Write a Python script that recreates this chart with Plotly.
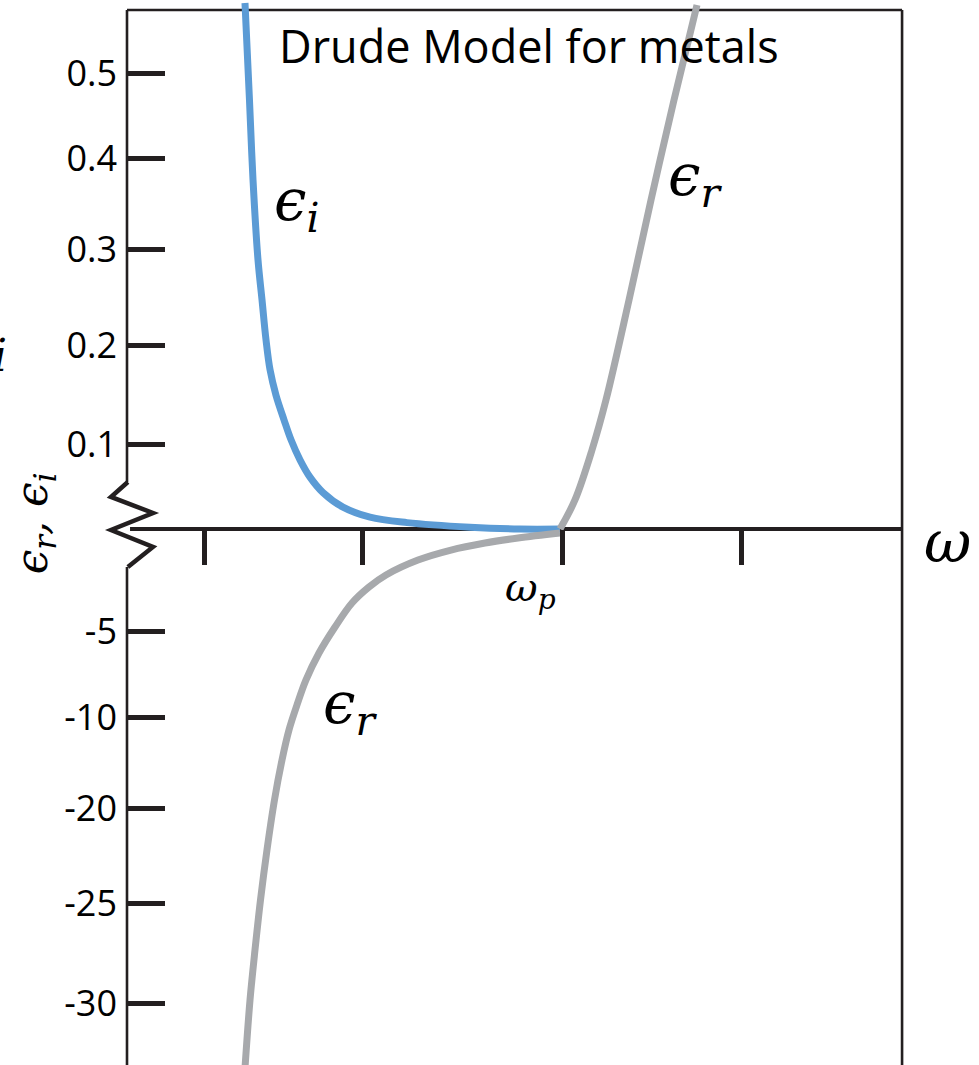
import plotly.graph_objects as go

# Frequency axis in units of the plasma frequency (omega / omega_p)
omega_i = [0.2725, 0.2829, 0.2910, 0.3025, 0.3118, 0.3210, 0.3303, 0.3441, 0.3626, 0.3788,
           0.3995, 0.4226, 0.4527, 0.4988, 0.5612, 0.6467, 0.7921, 0.9076, 1.0000]
eps_i = [0.578, 0.471, 0.384, 0.296, 0.252, 0.208, 0.175, 0.147, 0.120, 0.098,
         0.076, 0.057, 0.040, 0.024, 0.013, 0.007, 0.002, 0.000, 0.000]

# Real part below the plasma frequency (negative branch)
omega_r_low = [0.2725, 0.2841, 0.2956, 0.3083, 0.3233, 0.3406, 0.3580, 0.3741, 0.3926, 0.4134,
               0.4434, 0.4804, 0.5196, 0.5589, 0.5982, 0.6721, 0.7483, 0.8268, 0.9030, 1.0000]
eps_r_low = [-0.5923, -0.5176, -0.4626, -0.4077, -0.3527, -0.2978, -0.2538, -0.2209, -0.1934, -0.1659,
             -0.1363, -0.1077, -0.0813, -0.0637, -0.0505, -0.0341, -0.0231, -0.0154, -0.0099, -0.0044]

# Real part above the plasma frequency (positive branch)
omega_r_high = [1.0000, 1.0346, 1.0739, 1.1062, 1.1594, 1.2102, 1.2633, 1.3164]
eps_r_high = [0.0000, 0.0319, 0.0868, 0.1418, 0.2516, 0.3615, 0.4714, 0.5758]

# Broken vertical scale: tick places and their printed labels
y_tick_pos = [0.501, 0.407, 0.307, 0.202, 0.093, -0.113, -0.207, -0.307, -0.411, -0.521]
y_tick_labels = ["0.5", "0.4", "0.3", "0.2", "0.1", "-5", "-10", "-20", "-25", "-30"]
x_tick_pos = [0.180, 0.543, 1.005, 1.420]

BLUE = "#5B9BD5"
GREY = "#A7A9AC"
INK = "#231F20"
MATH = "DejaVu Serif"
SANS = "Open Sans"

X_LEFT, X_RIGHT = 0.0, 1.79
Y_TOP, Y_BOTTOM = 0.5703, -0.589

fig = go.Figure()
curve_style = dict(width=7, shape="spline", smoothing=1.0)
fig.add_trace(go.Scatter(x=omega_i, y=eps_i, mode="lines",
                         line=dict(color=BLUE, **curve_style),
                         hoverinfo="skip", showlegend=False))
fig.add_trace(go.Scatter(x=omega_r_low, y=eps_r_low, mode="lines",
                         line=dict(color=GREY, **curve_style),
                         hoverinfo="skip", showlegend=False))
fig.add_trace(go.Scatter(x=omega_r_high, y=eps_r_high, mode="lines",
                         line=dict(color=GREY, **curve_style),
                         hoverinfo="skip", showlegend=False))

frame = dict(color=INK, width=2.6)
shapes = [
    # top border
    dict(type="line", x0=X_LEFT, x1=X_RIGHT, y0=Y_TOP, y1=Y_TOP, line=frame),
    # right border
    dict(type="line", x0=X_RIGHT, x1=X_RIGHT, y0=Y_TOP, y1=Y_BOTTOM, line=frame),
    # left axis, interrupted by the break mark
    dict(type="line", x0=X_LEFT, x1=X_LEFT, y0=Y_TOP, y1=0.0516, line=frame),
    dict(type="line", x0=X_LEFT, x1=X_LEFT, y0=-0.0418, y1=Y_BOTTOM, line=frame),
    # omega axis
    dict(type="line", x0=0.007, x1=X_RIGHT, y0=0, y1=0, line=dict(color=INK, width=4)),
    # break mark
    dict(type="path",
         path="M 0.002 0.0516 L -0.037 0.0352 L 0.060 0.0176 L -0.037 -0.0011 "
              "L 0.060 -0.0198 L 0.002 -0.0418",
         line=dict(color=INK, width=4.5)),
]
for s in shapes:
    s["layer"] = "below"
    s["xref"] = "x"
    s["yref"] = "y"

annotations = [
    dict(x=0.928, y=0.531, text="Drude Model for metals", showarrow=False,
         font=dict(family=SANS, size=45, color="black"), xanchor="center", yanchor="middle"),
    dict(x=0.391, y=0.357, text="<i>ϵ<sub>i</sub></i>", showarrow=False,
         font=dict(family=MATH, size=58, color="black"), xanchor="center", yanchor="middle"),
    dict(x=1.312, y=0.385, text="<i>ϵ<sub>r</sub></i>", showarrow=False,
         font=dict(family=MATH, size=58, color="black"), xanchor="center", yanchor="middle"),
    dict(x=0.515, y=-0.196, text="<i>ϵ<sub>r</sub></i>", showarrow=False,
         font=dict(family=MATH, size=58, color="black"), xanchor="center", yanchor="middle"),
    dict(x=1.896, y=-0.014, text="<i>ω</i>", showarrow=False,
         font=dict(family=MATH, size=58, color="black"), xanchor="center", yanchor="middle"),
    dict(x=0.933, y=-0.067, text="<i>ω<sub>p</sub></i>", showarrow=False,
         font=dict(family=MATH, size=40, color="black"), xanchor="center", yanchor="middle"),
    dict(x=-0.213, y=0.006, text="<i>ϵ<sub>r</sub>, ϵ<sub>i</sub></i>", showarrow=False,
         textangle=-90,
         font=dict(family=MATH, size=44, color="black"), xanchor="center", yanchor="middle"),
    dict(x=-0.272, y=0.191, text="<i>i</i>", showarrow=False,
         font=dict(family=MATH, size=44, color="black"), xanchor="right", yanchor="middle"),
]

fig.update_layout(
    width=979, height=1065,
    margin=dict(l=0, r=0, t=0, b=0),
    paper_bgcolor="white", plot_bgcolor="white",
    shapes=shapes, annotations=annotations,
    xaxis=dict(range=[-0.2933, 1.9677], anchor="free", position=(1065 - 529) / 1065,
               showgrid=False, zeroline=False, showline=False,
               tickmode="array", tickvals=x_tick_pos, showticklabels=False,
               ticks="outside", ticklen=35, tickwidth=5, tickcolor=INK, fixedrange=True),
    yaxis=dict(range=[Y_BOTTOM, 0.5813], anchor="free", position=127 / 979,
               showgrid=False, zeroline=False, showline=False,
               tickmode="array", tickvals=y_tick_pos, ticktext=y_tick_labels,
               ticks="inside", ticklen=37, tickwidth=5, tickcolor=INK,
               ticklabelstandoff=10,
               tickfont=dict(family=SANS, size=36, color="black"), fixedrange=True),
)

fig.write_html("out.html")
